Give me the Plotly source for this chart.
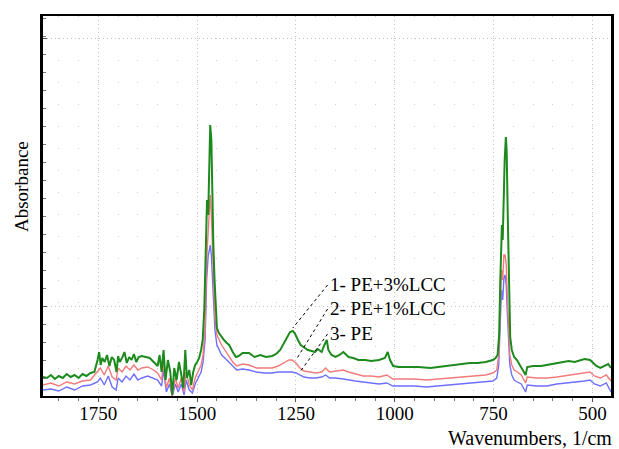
import plotly.graph_objects as go

# ---------------- data ----------------
wn_green = [1890, 1880, 1870, 1860, 1850, 1840, 1830, 1820, 1810, 1800, 1790, 1780, 1770, 1760,
            1752, 1748, 1744, 1740, 1734, 1728, 1722, 1716, 1710, 1704, 1700, 1696, 1690, 1684,
            1678, 1672, 1666, 1660, 1654, 1648, 1640, 1630, 1620, 1610, 1600, 1595, 1590, 1585,
            1580, 1574, 1568, 1563, 1558, 1552, 1546, 1540, 1535, 1530, 1526, 1520, 1515, 1510,
            1505, 1500, 1495, 1490, 1486, 1482, 1478, 1475, 1472, 1469, 1467, 1464, 1462, 1459,
            1456, 1453, 1450, 1445, 1440, 1432, 1425, 1419, 1410, 1402, 1395, 1385, 1369, 1355,
            1340, 1326, 1310, 1300, 1290, 1280, 1272, 1265, 1258, 1252, 1245, 1238, 1231, 1220,
            1210, 1202, 1195, 1185, 1178, 1172, 1168, 1160, 1150, 1140, 1130, 1117, 1105, 1092,
            1075, 1060, 1040, 1025, 1018, 1012, 1004, 990, 966, 940, 910, 891, 870, 840, 810, 790,
            770, 752, 745, 740, 736, 733, 731, 729, 727, 725, 722, 719, 717, 714, 711, 708, 704,
            698, 691, 680, 669, 665, 650, 630, 615, 600, 580, 560, 545, 530, 520, 506, 498, 490,
            480, 470, 460, 453]
abs_green = [0.095, 0.090, 0.105, 0.085, 0.100, 0.090, 0.110, 0.095, 0.105, 0.090, 0.110, 0.100, 0.115, 0.120,
             0.180, 0.220, 0.155, 0.190, 0.170, 0.205, 0.150, 0.195, 0.180, 0.120, 0.200, 0.170, 0.190, 0.220,
             0.165, 0.195, 0.180, 0.210, 0.170, 0.195, 0.200, 0.195, 0.190, 0.170, 0.150, 0.205, 0.120, 0.230,
             0.080, 0.180, 0.120, 0.005, 0.140, 0.080, 0.170, 0.105, 0.040, 0.230, 0.090, 0.130, 0.055, 0.120,
             0.155, 0.170, 0.190, 0.230, 0.280, 0.430, 0.730, 0.980, 0.905, 1.130, 1.355, 1.280, 0.980, 0.755,
             0.580, 0.430, 0.340, 0.315, 0.300, 0.280, 0.265, 0.255, 0.220, 0.195, 0.200, 0.215, 0.215, 0.195,
             0.205, 0.195, 0.200, 0.210, 0.230, 0.265, 0.300, 0.320, 0.325, 0.310, 0.280, 0.255, 0.245, 0.230,
             0.225, 0.220, 0.235, 0.220, 0.255, 0.280, 0.230, 0.205, 0.195, 0.205, 0.220, 0.195, 0.190, 0.180,
             0.180, 0.175, 0.180, 0.190, 0.220, 0.180, 0.150, 0.145, 0.145, 0.145, 0.140, 0.145, 0.150, 0.160, 0.165, 0.165,
             0.170, 0.180, 0.190, 0.205, 0.305, 0.580, 0.830, 0.855, 0.780, 0.980, 1.180, 1.295, 1.230, 0.880, 0.480, 0.295, 0.230,
             0.195, 0.180, 0.145, 0.105, 0.145, 0.150, 0.150, 0.155, 0.160, 0.165, 0.175, 0.170, 0.180, 0.185, 0.180, 0.165, 0.150,
             0.140, 0.150, 0.160, 0.140]

wn_red = [1890, 1870, 1850, 1830, 1810, 1790, 1770, 1752, 1745, 1735, 1725, 1715, 1705, 1700, 1690,
          1680, 1670, 1660, 1650, 1640, 1625, 1610, 1600, 1590, 1585, 1578, 1570, 1563, 1555, 1548,
          1540, 1533, 1528, 1520, 1512, 1505, 1498, 1490, 1485, 1480, 1476, 1472, 1469, 1467, 1464,
          1461, 1458, 1455, 1450, 1445, 1438, 1430, 1420, 1410, 1400, 1385, 1369, 1350, 1330, 1310,
          1295, 1280, 1268, 1260, 1250, 1240, 1230, 1215, 1200, 1185, 1175, 1165, 1150, 1130, 1117,
          1100, 1080, 1060, 1040, 1020, 1005, 980, 950, 920, 891, 860, 830, 800, 770, 752, 742, 737,
          733, 730, 727, 724, 721, 718, 715, 712, 709, 704, 698, 690, 680, 669, 665, 640, 615, 590,
          560, 540, 520, 506, 495, 480, 465, 453]
abs_red = [0.055, 0.065, 0.050, 0.070, 0.060, 0.075, 0.080, 0.120, 0.140, 0.105, 0.150, 0.095, 0.080, 0.140, 0.120,
           0.150, 0.130, 0.155, 0.130, 0.140, 0.145, 0.130, 0.115, 0.080, 0.170, 0.040, 0.090, 0.000, 0.090, 0.040,
           0.090, 0.020, 0.120, 0.055, 0.030, 0.090, 0.120, 0.155, 0.205, 0.330, 0.680, 0.830, 0.930, 1.005, 0.905,
           0.730, 0.530, 0.390, 0.305, 0.280, 0.255, 0.230, 0.200, 0.170, 0.150, 0.160, 0.155, 0.140, 0.140, 0.140,
           0.150, 0.165, 0.180, 0.180, 0.165, 0.140, 0.125, 0.120, 0.115, 0.120, 0.140, 0.120, 0.125, 0.130, 0.120,
           0.110, 0.100, 0.100, 0.095, 0.105, 0.085, 0.085, 0.085, 0.080, 0.085, 0.090, 0.095, 0.100, 0.105, 0.115, 0.130, 0.205,
           0.430, 0.630, 0.580, 0.705, 0.705, 0.655, 0.480, 0.305, 0.205, 0.155, 0.130, 0.120, 0.105, 0.065, 0.095, 0.090, 0.090, 0.095,
           0.105, 0.110, 0.115, 0.120, 0.100, 0.090, 0.105, 0.075]

wn_blue = list(wn_red)
abs_blue = [0.030, 0.035, 0.025, 0.045, 0.030, 0.050, 0.055, 0.070, 0.090, 0.055, 0.100, 0.045, 0.030, 0.090, 0.070,
            0.100, 0.080, 0.110, 0.080, 0.090, 0.100, 0.090, 0.080, 0.050, 0.130, 0.020, 0.060, 0.000, 0.060, 0.020,
            0.060, 0.005, 0.080, 0.030, 0.015, 0.060, 0.090, 0.120, 0.170, 0.280, 0.580, 0.705, 0.730, 0.755, 0.705,
            0.580, 0.430, 0.330, 0.255, 0.230, 0.205, 0.190, 0.170, 0.150, 0.130, 0.135, 0.130, 0.120, 0.115, 0.115,
            0.120, 0.120, 0.120, 0.120, 0.115, 0.105, 0.095, 0.090, 0.090, 0.095, 0.105, 0.090, 0.090, 0.085, 0.080,
            0.075, 0.070, 0.065, 0.060, 0.065, 0.050, 0.050, 0.050, 0.045, 0.050, 0.055, 0.060, 0.065, 0.070, 0.075, 0.090, 0.155,
            0.380, 0.530, 0.480, 0.590, 0.605, 0.555, 0.405, 0.255, 0.155, 0.105, 0.080, 0.070, 0.060, 0.020, 0.055, 0.050, 0.050, 0.060,
            0.065, 0.070, 0.075, 0.080, 0.060, 0.050, 0.065, 0.020]

series_names = ["1- PE+3%LCC", "2- PE+1%LCC", "3- PE"]
tick_vals = [1750, 1500, 1250, 1000, 750, 500]
tick_text = ["1750", "1500", "1250", "1000", "750", "500"]

# ---------------- figure ----------------
SERIF = "Liberation Serif, Times New Roman, serif"
fig = go.Figure()
fig.add_trace(go.Scatter(x=wn_blue, y=abs_blue, mode="lines", name=series_names[2],
                         line=dict(color="#6f6fff", width=1.4)))
fig.add_trace(go.Scatter(x=wn_red, y=abs_red, mode="lines", name=series_names[1],
                         line=dict(color="#f27a7a", width=1.4)))
fig.add_trace(go.Scatter(x=wn_green, y=abs_green, mode="lines", name=series_names[0],
                         line=dict(color="#1c8a1c", width=2)))

# labels with dashed leader lines to the ~1260 cm-1 band of each curve
label_pos = [(1168, 0.56), (1168, 0.44), (1168, 0.315)]
targets = [(wn_green, abs_green, 1258), (wn_red, abs_red, 1250), (wn_blue, abs_blue, 1240)]
for (lx, ly), name, (wx, wy, tw) in zip(label_pos, series_names, targets):
    i = wx.index(tw)
    fig.add_annotation(x=lx, y=ly, xref="x", yref="y", text=name, showarrow=False,
                       xanchor="left", yanchor="middle",
                       font=dict(family=SERIF, size=19, color="black"))
    fig.add_shape(type="line", xref="x", yref="y", x0=lx + 2, y0=ly - 0.005, x1=wx[i], y1=wy[i] + 0.015,
                  line=dict(color="black", width=1, dash="3px,3px"))

fig.add_annotation(xref="paper", yref="paper", x=1, y=0, xshift=3, yshift=-42, text="Wavenumbers, 1/cm",
                   showarrow=False, xanchor="right", yanchor="middle",
                   font=dict(family=SERIF, size=20, color="black"))
fig.add_annotation(xref="paper", yref="paper", x=0, y=0.55, xshift=-21, text="Absorbance",
                   textangle=-90, showarrow=False, xanchor="center", yanchor="middle",
                   font=dict(family=SERIF, size=19, color="black"))

fig.update_layout(
    width=619, height=449,
    margin=dict(l=43, r=5, t=16, b=53),
    paper_bgcolor="white", plot_bgcolor="white",
    showlegend=False,
    xaxis=dict(range=[1890, 453], tickvals=tick_vals, ticktext=tick_text,
               ticks="outside", ticklen=4, tickcolor="#555555", ticklabelstandoff=-5,
               tickfont=dict(family=SERIF, size=19, color="black"),
               showline=True, linecolor="black", linewidth=2, mirror=True,
               showgrid=True, gridcolor="#c4c4c4", griddash="1px,3px", gridwidth=1,
               zeroline=False,
               minor=dict(dtick=50, tick0=500, ticks="outside", ticklen=3, tickcolor="#777777",
                          showgrid=True, gridcolor="#cfcfcf", griddash="1px,21px", gridwidth=1)),
    yaxis=dict(range=[0, 1.9], showticklabels=False, ticks="inside", ticklen=4, tickcolor="#555555",
               tickvals=[0.45, 1.79],
               showline=True, linecolor="black", linewidth=3, mirror=True,
               showgrid=True, gridcolor="#c4c4c4", griddash="1px,3px", gridwidth=1,
               zeroline=False,
               minor=dict(dtick=0.09, ticks="inside", ticklen=3, tickcolor="#777777", showgrid=False)),
)

fig.write_html("out.html", config={"displayModeBar": False},
               post_script="document.body.style.margin='0';document.body.style.overflow='hidden';")
